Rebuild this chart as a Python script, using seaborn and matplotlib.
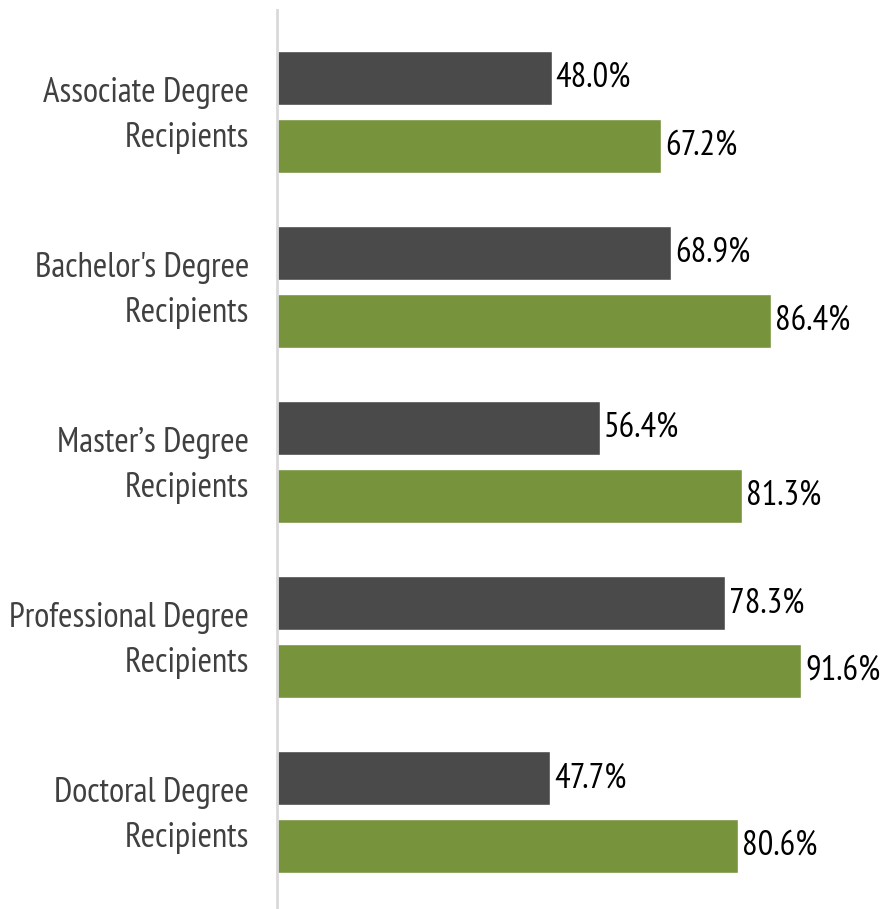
import matplotlib
matplotlib.use('Agg')
import matplotlib.pyplot as plt
import matplotlib.transforms as mtransforms
import seaborn as sns
import pandas as pd
from matplotlib import font_manager as fm

categories = ['Associate Degree\nRecipients', "Bachelor's Degree\nRecipients",
              'Master\u2019s Degree\nRecipients', 'Professional Degree\nRecipients',
              'Doctoral Degree\nRecipients']
series_names = ['Series 1', 'Series 2']
series1 = [48.0, 68.9, 56.4, 78.3, 47.7]
series2 = [67.2, 86.4, 81.3, 91.6, 80.6]
colors = ['#4a4a4a', '#77933c']

df = pd.DataFrame({
    'category': categories * 2,
    'series': [series_names[0]] * len(categories) + [series_names[1]] * len(categories),
    'value': series1 + series2,
})

sns.set_theme(style='white')
installed = {f.name for f in fm.fontManager.ttflist}
wanted = ['PT Sans Narrow', 'Roboto Condensed', 'Archivo Narrow', 'Open Sans Condensed',
          'Fira Sans Condensed', 'Liberation Sans Narrow', 'Asap Condensed']
fams = [f for f in wanted if f in installed] + ['DejaVu Sans']
plt.rcParams['font.family'] = fams

fig = plt.figure(figsize=(8.85, 9.09), dpi=100)
ax = fig.add_axes([277 / 885, 0, 608 / 885, 899 / 909])

sns.barplot(data=df, y='category', x='value', hue='series', palette=colors,
            orient='h', width=0.777, gap=0.206, legend=False, ax=ax,
            saturation=1, errorbar=None)

for cont in ax.containers:
    ax.bar_label(cont, fmt='%.1f%%', padding=3, fontsize=25, color='black')

ax.set_xlim(0, 106.3)
ax.set_ylim(4.554, -0.583)
ax.set_xlabel('')
ax.set_ylabel('')
ax.set_xticks([])
ax.tick_params(axis='y', length=0, pad=20, labelsize=25, labelcolor='#404040')
shift = mtransforms.ScaledTranslation(0, 4.5 / 72, fig.dpi_scale_trans)
for lbl in ax.get_yticklabels():
    lbl.set_horizontalalignment('right')
    lbl.set_multialignment('right')
    lbl.set_linespacing(1.5)
    lbl.set_transform(lbl.get_transform() + shift)

for s in ['top', 'right', 'bottom']:
    ax.spines[s].set_visible(False)
ax.spines['left'].set_color('#d9d9d9')
ax.spines['left'].set_linewidth(2)

fig.savefig('out.png', dpi=100)
